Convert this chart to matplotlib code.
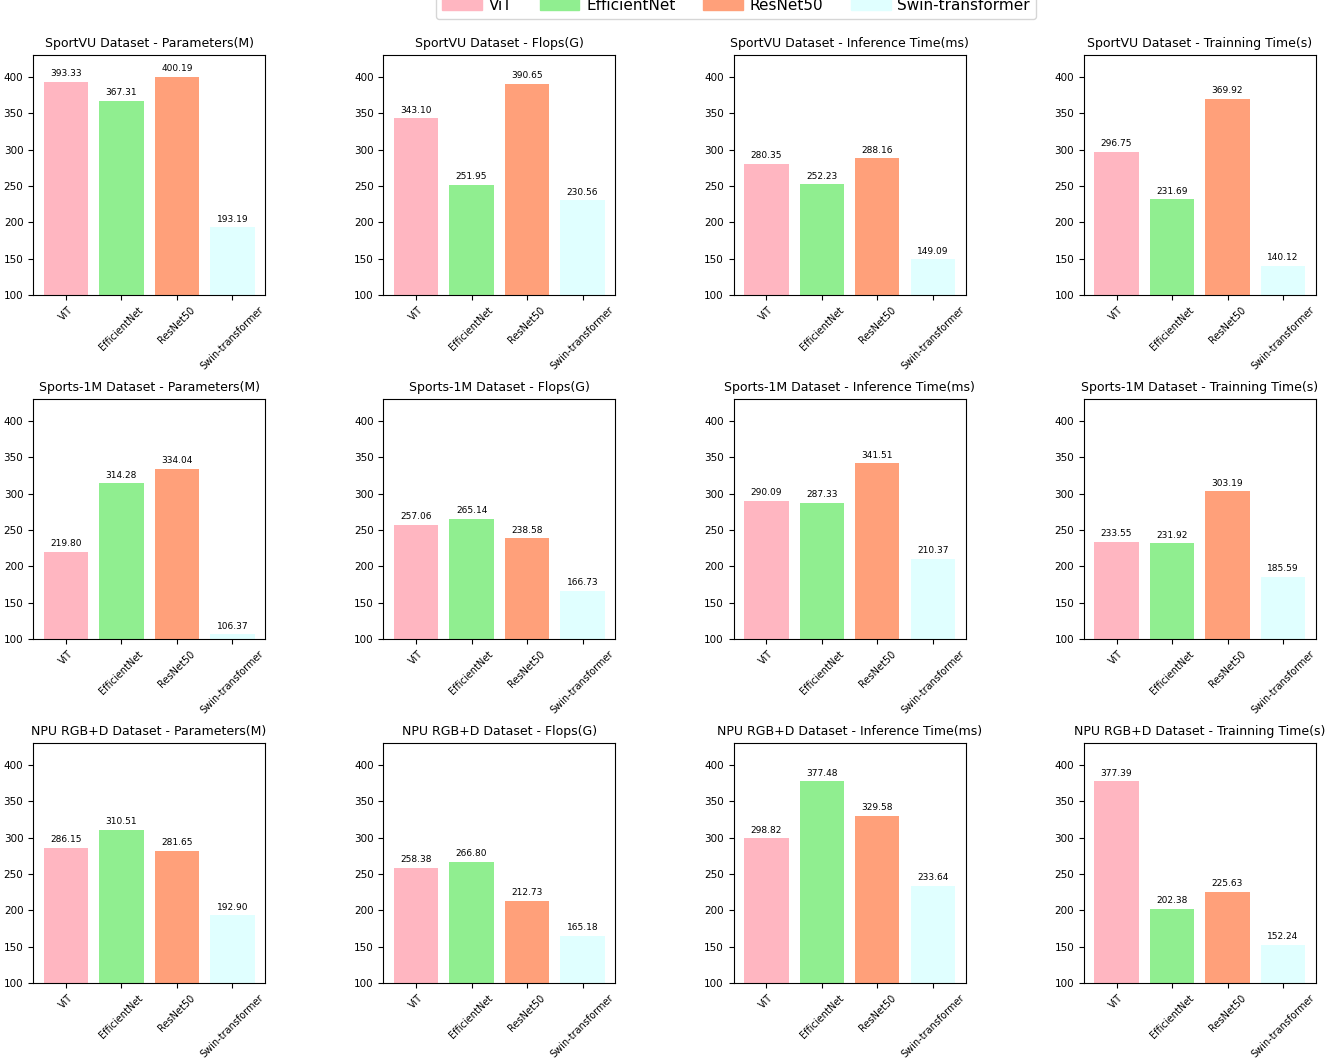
import matplotlib.pyplot as plt
from matplotlib.patches import Patch

MODELS = ["ViT", "EfficientNet", "ResNet50", "Swin-transformer"]
COLORS = ["lightpink", "lightgreen", "lightsalmon", "lightcyan"]

DATASETS = ["SportVU Dataset", "Sports-1M Dataset", "NPU RGB+D Dataset"]
METRICS = ["Parameters(M)", "Flops(G)", "Inference Time(ms)", "Trainning Time(s)"]

# one list per dataset, one row per metric (values in MODELS order)
sportvu = [
    [393.33, 367.31, 400.19, 193.19],
    [343.10, 251.95, 390.65, 230.56],
    [280.35, 252.23, 288.16, 149.09],
    [296.75, 231.69, 369.92, 140.12],
]
sports1m = [
    [219.80, 314.28, 334.04, 106.37],
    [257.06, 265.14, 238.58, 166.73],
    [290.09, 287.33, 341.51, 210.37],
    [233.55, 231.92, 303.19, 185.59],
]
npu_rgbd = [
    [286.15, 310.51, 281.65, 192.90],
    [258.38, 266.80, 212.73, 165.18],
    [298.82, 377.48, 329.58, 233.64],
    [377.39, 202.38, 225.63, 152.24],
]
VALUES = [sportvu, sports1m, npu_rgbd]


def main():
    fig, axes = plt.subplots(3, 4, figsize=(13.25, 10.61), dpi=100)
    fig.subplots_adjust(left=0.025, right=0.993, top=0.948, bottom=0.0735,
                        wspace=0.51, hspace=0.433)

    for i, dataset in enumerate(DATASETS):
        for j, metric in enumerate(METRICS):
            ax = axes[i, j]
            vals = VALUES[i][j]
            bars = ax.bar(MODELS, vals, color=COLORS)
            for bar, v in zip(bars, vals):
                ax.text(bar.get_x() + bar.get_width() / 2, v + 5, f"{v:.2f}",
                        ha="center", va="bottom", fontsize=6.5)
            ax.set_ylim(100, 430)
            ax.set_title(f"{dataset} - {metric}", fontsize=9)
            ax.tick_params(axis="y", labelsize=7.5)
            ax.tick_params(axis="x", labelsize=7, labelrotation=45)
            for lbl in ax.get_xticklabels():
                lbl.set_ha("center")

    # legend sits partly above the top edge, as in the source figure
    handles = [Patch(color=c, label=m) for c, m in zip(COLORS, MODELS)]
    fig.legend(handles=handles, loc="lower center", ncol=4,
               bbox_to_anchor=(0.5555, 0.982), borderaxespad=0,
               fontsize=11, handlelength=2.6, handletextpad=0.45,
               columnspacing=1.8)

    fig.savefig("out.png", dpi=100)
    plt.close(fig)


if __name__ == "__main__":
    main()
